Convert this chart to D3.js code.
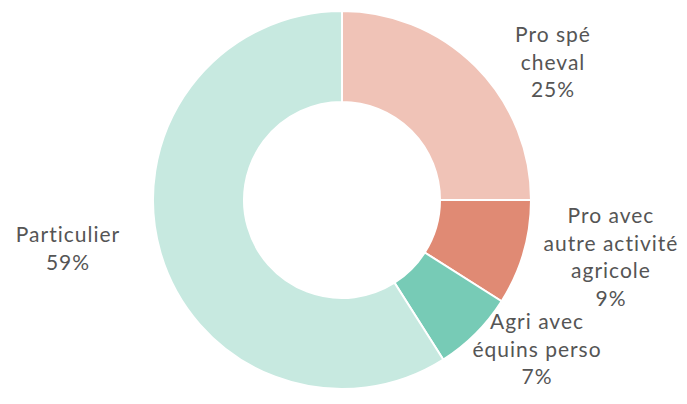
<!DOCTYPE html>
<html>
<head>
<meta charset="utf-8">
<script src="https://cdn.jsdelivr.net/npm/d3@7"></script>
<style>
  body { margin: 0; background: #fff; }
  .lbl { font-family: "Lato", "Noto Sans", sans-serif; font-size: 21px; letter-spacing: 1px; fill: #555; }
</style>
</head>
<body>
<div class="chart"></div>
<script>
// data
let categories = ["Pro spé cheval", "Pro avec autre activité agricole", "Agri avec équins perso", "Particulier"];
let values = [25, 9, 7, 59];
let labelLines = [
  ["Pro spé", "cheval", "25%"],
  ["Pro avec", "autre activité", "agricole", "9%"],
  ["Agri avec", "équins perso", "7%"],
  ["Particulier", "59%"]
];
let colors = ["#f0c3b7", "#e08a74", "#77cbb6", "#c7e9e0"];

let svgW = 687;
let svgH = 404;
let cx = 342, cy = 200;
let outerR = 189, innerR = 98;

// label anchors (x, baseline y of first line)
let labelPos = [[553, 42], [611, 223], [537, 329], [68, 242]];
let lineH = 27.5;

let svg = d3.select(".chart").append("svg")
  .attr("width", svgW)
  .attr("height", svgH);

let pie = d3.pie().sort(null).value(d => d);
let arc = d3.arc().innerRadius(innerR).outerRadius(outerR);

let g = svg.append("g").attr("transform", `translate(${cx}, ${cy})`);

g.selectAll("path")
  .data(pie(values))
  .enter()
  .append("path")
  .attr("d", arc)
  .attr("fill", (d, i) => colors[i])
  .attr("stroke", "#fff")
  .attr("stroke-width", 2);

// labels
labelLines.forEach(function(lines, i) {
  let t = svg.append("text")
    .attr("class", "lbl")
    .attr("text-anchor", "middle")
    .attr("x", labelPos[i][0])
    .attr("y", labelPos[i][1]);
  lines.forEach(function(s, j) {
    t.append("tspan")
      .attr("x", labelPos[i][0])
      .attr("dy", j === 0 ? 0 : lineH)
      .text(s);
  });
});
</script>
</body>
</html>
